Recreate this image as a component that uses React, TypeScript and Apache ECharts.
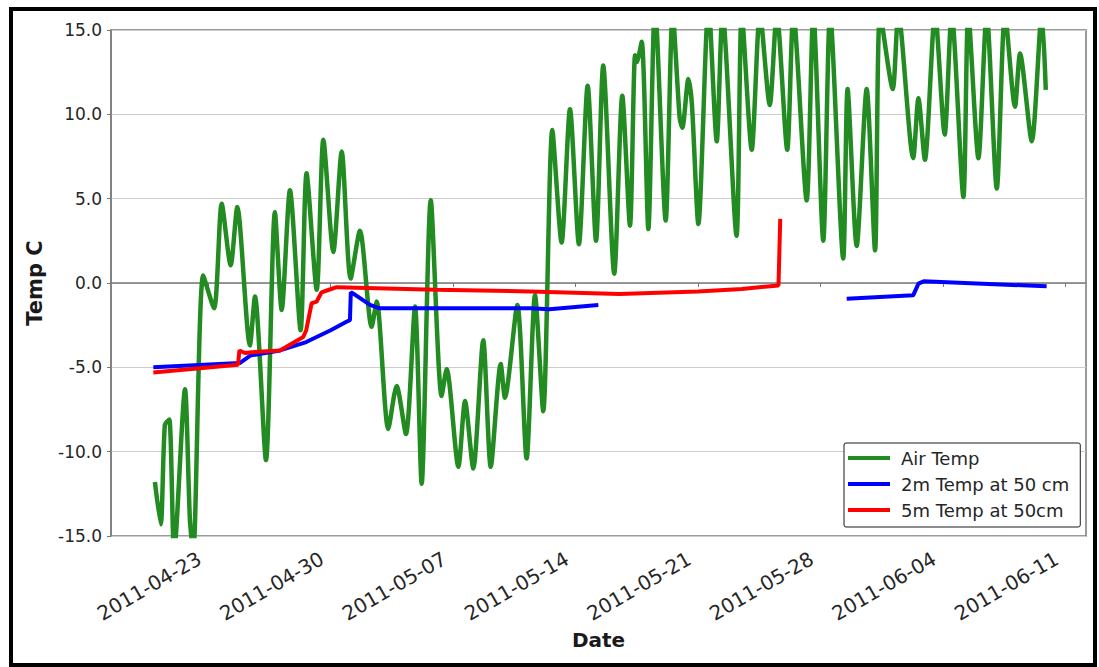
import React, { useEffect, useRef } from "react";
import * as echarts from "echarts";

// Days since 2011-04-23 00:00 and temperatures (°C)
const airDays = [
  -3.05, -2.72, -2.48, -2.23, -1.95, -1.33, -1.05, -0.86, -0.29, 0.33, 0.77, 1.28, 1.66, 2.38, 2.67,
  3.3, 3.81, 4.2, 4.67, 5.28, 5.62, 6.2, 6.58, 7.15, 7.63, 8.14, 8.67, 9.34, 9.63, 10.29, 10.77,
  11.3, 11.82, 12.2, 12.72, 13.34, 13.63, 14.3, 14.68, 15.15, 15.72, 16.15, 16.72, 16.96, 17.67,
  18.2, 18.68, 19.15, 19.67, 20.2, 20.68, 21.19, 21.69, 22.17, 22.58, 23.21, 23.67, 24.11, 24.4,
  24.5, 24.78, 25.16, 25.54, 26.15, 26.55, 26.95, 27.1, 27.45, 27.65, 28.02, 28.6, 29.07, 29.4,
  30.2, 30.5, 31.07, 31.54, 32.1, 32.5, 33.1, 33.45, 34.21, 34.59, 35.16, 35.55, 36.3, 36.55,
  37.07, 37.64, 38.12, 38.41, 39.13, 39.45, 40.3, 40.6, 40.97, 41.55, 42.1, 42.5, 43.17, 43.45,
  44.03, 44.5, 45.08, 45.55, 46.12, 46.41, 47.08, 47.65, 47.88,
];
const airTemp = [
  -11.8, -14.3, -8.4, -8.1, -16.0, -6.3, -14.0, -16.0, 0.45, -1.5, 4.7, 1.05, 4.5, -3.7, -0.8,
  -10.5, 4.2, -1.6, 5.5, -2.8, 6.5, -0.4, 8.5, 1.84, 7.8, 0.26, 3.1, -2.6, -1.1, -8.65, -6.1,
  -8.95, -1.4, -11.9, 4.9, -6.7, -5.1, -10.9, -7.0, -11.0, -3.4, -10.9, -4.8, -6.8, -1.3,
  -10.4, -0.73, -7.6, 9.07, 2.4, 10.3, 2.3, 11.7, 2.5, 12.9, 0.55, 11.1, 3.4, 13.5,
  13.1, 14.3, 3.2, 16.5, 3.7, 16.0, 9.8, 9.2, 12.1, 10.6, 3.5, 16.5, 8.4, 16.0,
  2.8, 16.0, 7.9, 16.0, 10.55, 16.0, 7.9, 16.0, 4.9, 16.0, 2.5, 16.0, 1.45, 11.5,
  2.2, 11.5, 1.94, 16.0, 11.5, 16.0, 7.4, 10.95, 7.3, 16.0, 8.8, 16.0, 5.1, 16.0,
  7.4, 16.0, 5.6, 16.0, 10.45, 13.6, 8.4, 16.0, 11.45,
];

const temp2mDays = [
  -3.14, 1.8, 2.4, 4.1, 5.6, 7.0, 7.9, 8.1, 8.15, 8.4, 9.25, 9.8, 18.4, 19.5, 22.3,
  29.0, 36.5, 38.4, 40.3, 40.6, 40.9, 47.93,
];
const temp2m = [
  -5.0, -4.75, -4.3, -4.0, -3.5, -2.8, -2.3, -2.2, -0.55, -0.7, -1.3, -1.5, -1.5, -1.55, -1.3,
  null, -0.93, -0.83, -0.73, -0.04, 0.1, -0.2,
];

const temp5mDays = [
  -3.14, 1.7, 1.78, 2.1, 2.5, 4.1, 5.43, 5.6, 5.91, 6.2, 6.48, 6.9, 7.34, 13.0, 18.4, 23.5,
  28.0, 30.5, 32.6, 32.7,
];
const temp5m = [
  -5.3, -4.85, -4.0, -4.15, -4.1, -4.0, -3.2, -2.8, -1.2, -1.1, -0.55, -0.4, -0.25, -0.4, -0.5,
  -0.65, -0.5, -0.35, -0.15, 3.8,
];

const tickDays = [0, 7, 14, 21, 28, 35, 42, 49];
const yTicks = [-15, -10, -5, 0, 5, 10, 15];

const seriesNames = ["Air Temp", "2m Temp at 50 cm", "5m Temp at 50cm"];
const seriesColors = ["#228b22", "#0000ff", "#ff0000"];

const DAY = 86400000;
const T0 = Date.UTC(2011, 3, 23);
const ts = (d: number) => T0 + d * DAY;
const pairs = (days: number[], vals: (number | null)[]) =>
  days.map((d, i) => [ts(d), vals[i] === null ? "-" : vals[i]]);

const FONT = "DejaVu Sans";

export default function App() {
  const ref = useRef<HTMLDivElement>(null);
  useEffect(() => {
    if (!ref.current) return;
    const chart = echarts.init(ref.current, undefined, { renderer: "svg" });
    const tickVals = tickDays.map(ts);
    chart.setOption({
      animation: false,
      backgroundColor: "#ffffff",
      textStyle: { fontFamily: FONT },
      grid: {
        left: 111,
        top: 30,
        width: 975,
        height: 506,
        show: true,
        borderColor: "#7a7a7a",
        borderWidth: 1.5,
        containLabel: false,
      },
      xAxis: {
        type: "value",
        min: ts(-5.56),
        max: ts(50.18),
        name: "Date",
        nameLocation: "middle",
        nameGap: 94,
        nameTextStyle: { fontFamily: FONT, fontSize: 20, fontWeight: "bold", color: "#1a1a1a" },
        axisLine: { show: true, lineStyle: { color: "#7a7a7a", width: 1.5 } },
        axisTick: { show: true, length: 4, lineStyle: { color: "#7a7a7a" }, customValues: tickVals },
        axisLabel: {
          customValues: tickVals,
          rotate: 30,
          margin: 16,
          padding: [0, 10, 0, 0],
          fontFamily: FONT,
          fontSize: 20,
          color: "#262626",
          formatter: (v: number) => new Date(v).toISOString().slice(0, 10),
        },
        splitLine: { show: false },
      },
      yAxis: {
        type: "value",
        min: yTicks[0],
        max: yTicks[yTicks.length - 1],
        interval: 5,
        name: "Temp C",
        nameLocation: "middle",
        nameRotate: 90,
        nameGap: 66,
        nameTextStyle: { fontFamily: FONT, fontSize: 21, fontWeight: "bold", color: "#1a1a1a" },
        axisLine: { show: true, lineStyle: { color: "#7a7a7a", width: 1.5 } },
        axisTick: { show: true, length: 4, lineStyle: { color: "#7a7a7a" } },
        axisLabel: {
          margin: 9,
          fontFamily: FONT,
          fontSize: 17,
          color: "#262626",
          formatter: (v: number) => v.toFixed(1),
        },
        splitLine: { show: true, lineStyle: { color: "#cccccc", width: 1 } },
      },
      legend: {
        left: 844,
        top: 443,
        orient: "vertical",
        padding: [5, 11, 7, 4],
        itemGap: 6,
        itemWidth: 42,
        itemHeight: 4,
        icon: "rect",
        backgroundColor: "#ffffff",
        borderColor: "#1a1a1a",
        borderWidth: 1,
        borderRadius: 2,
        textStyle: { fontFamily: FONT, fontSize: 18, lineHeight: 20, color: "#262626", padding: [0, 0, 0, 6] },
        data: seriesNames,
      },
      series: [
        {
          name: seriesNames[0],
          type: "line",
          data: pairs(airDays, airTemp),
          showSymbol: false,
          smooth: 0.25,
          lineStyle: { color: seriesColors[0], width: 4.5 },
          itemStyle: { color: seriesColors[0] },
          clip: true,
        },
        {
          name: seriesNames[1],
          type: "line",
          data: pairs(temp2mDays, temp2m),
          showSymbol: false,
          connectNulls: false,
          lineStyle: { color: seriesColors[1], width: 4 },
          itemStyle: { color: seriesColors[1] },
          clip: true,
        },
        {
          name: seriesNames[2],
          type: "line",
          data: pairs(temp5mDays, temp5m),
          showSymbol: false,
          lineStyle: { color: seriesColors[2], width: 4 },
          itemStyle: { color: seriesColors[2] },
          clip: true,
        },
      ],
      graphic: [
        {
          type: "rect",
          shape: { x: 11, y: 9, width: 1084, height: 656 },
          style: { fill: "none", stroke: "#000000", lineWidth: 4 },
          silent: true,
          z: 100,
        },
      ],
    });
    return () => chart.dispose();
  }, []);
  return (
    <div
      ref={ref}
      style={{ position: "fixed", left: 0, top: 0, width: 1099, height: 667, background: "#fff" }}
    />
  );
}
